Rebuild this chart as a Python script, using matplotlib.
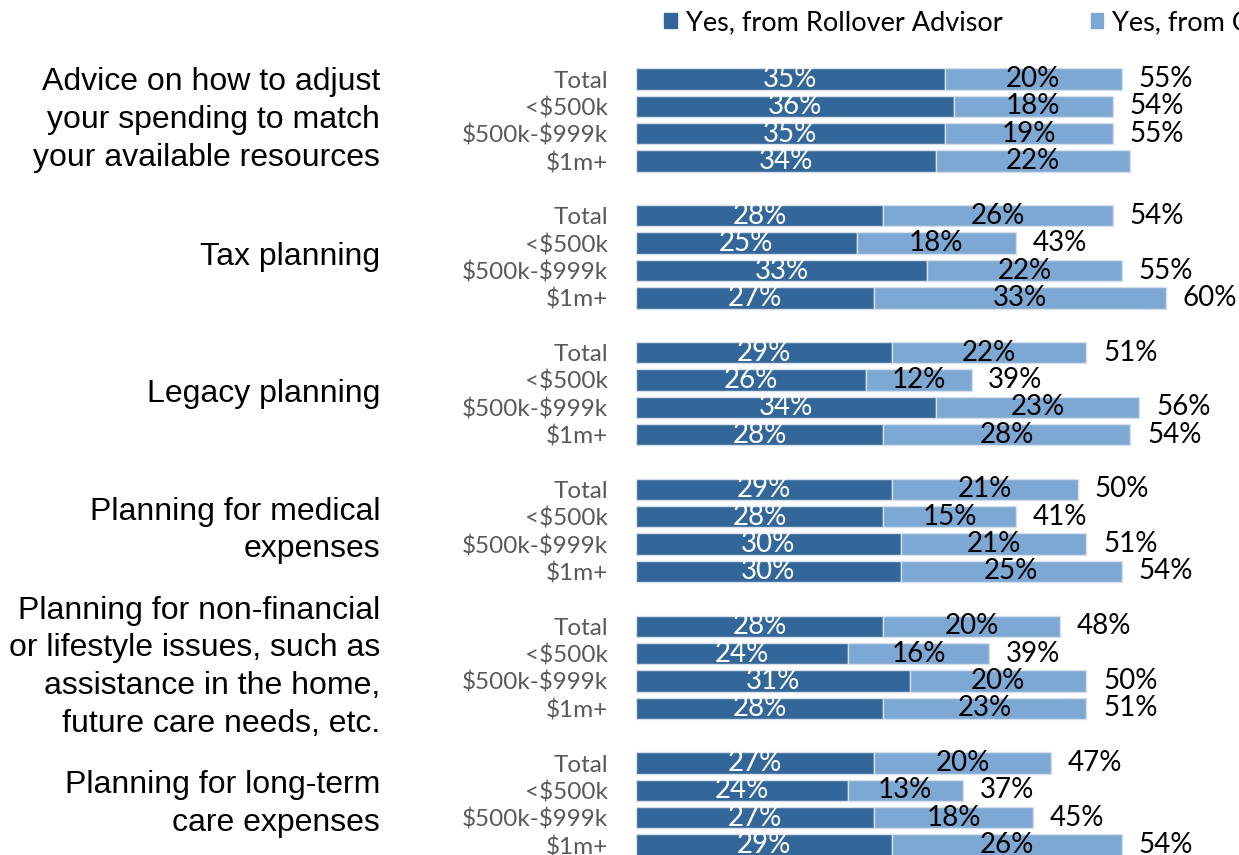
import matplotlib
matplotlib.use("Agg")
import matplotlib.pyplot as plt
from matplotlib.transforms import blended_transform_factory

# ---- data ----
categories = [
    "Advice on how to adjust\nyour spending to match\nyour available resources",
    "Tax planning",
    "Legacy planning",
    "Planning for medical\nexpenses",
    "Planning for non-financial\nor lifestyle issues, such as\nassistance in the home,\nfuture care needs, etc.",
    "Planning for long-term\ncare expenses",
]
segments = ["Total", "<\\$500k", "\\$500k-\\$999k", "\\$1m+"]

rollover = [
    [35, 36, 35, 34],
    [28, 25, 33, 27],
    [29, 26, 34, 28],
    [29, 28, 30, 30],
    [28, 24, 31, 28],
    [27, 24, 27, 29],
]
other = [
    [20, 18, 19, 22],
    [26, 18, 22, 33],
    [22, 12, 23, 28],
    [21, 15, 21, 25],
    [20, 16, 20, 23],
    [20, 13, 18, 26],
]
totals = [
    [55, 54, 55, None],
    [54, 43, 55, 60],
    [51, 39, 56, 54],
    [50, 41, 51, 54],
    [48, 39, 50, 51],
    [47, 37, 45, 54],
]
series_names = ["Yes, from Rollover Advisor", "Yes, from Other Advisor"]

dark = "#336699"
light = "#7EA8D4"
edge = "#D6E0EA"
lab_font = "Lato"

W, H = 1239, 855
fig = plt.figure(figsize=(W / 100, H / 100), dpi=100)

# axes placed in pixel terms: row i centre = 79 + 27.36*i, x = 636 + 8.83*v
row_h = 27.36
n_rows = len(categories) * 5 - 1
top_px = 79 - 0.5 * row_h
bot_px = 79 + (n_rows - 0.5) * row_h
x0_px, px_per = 636, 8.83
xmax = 68
ax = fig.add_axes([x0_px / W, 1 - bot_px / H,
                   xmax * px_per / W, (bot_px - top_px) / H])

ypos, ylabels = [], []
for g in range(len(categories)):
    for s in range(len(segments)):
        y = g * 5 + s
        r, o, t = rollover[g][s], other[g][s], totals[g][s]
        ax.barh(y, r, height=0.78, color=dark, edgecolor=edge, linewidth=1)
        ax.barh(y, o, left=r, height=0.78, color=light, edgecolor=edge, linewidth=1)
        ax.text(r / 2, y, f"{r}%", ha="center", va="center", color="white",
                fontsize=20, family=lab_font)
        ax.text(r + o / 2, y, f"{o}%", ha="center", va="center", color="black",
                fontsize=20, family=lab_font)
        if t is not None:
            ax.annotate(f"{t}%", (r + o, y), xytext=(12, 0), textcoords="offset points",
                        ha="left", va="center", color="black", fontsize=20,
                        family=lab_font)
        ypos.append(y)
        ylabels.append(segments[s])

ax.set_xlim(0, xmax)
ax.set_ylim(n_rows - 0.5, -0.5)
ax.set_yticks(ypos)
ax.set_yticklabels(ylabels, fontsize=17.5, color="#595959", family=lab_font)
ax.tick_params(axis="y", length=0, pad=20)
ax.set_xticks([])
for sp in ax.spines.values():
    sp.set_visible(False)

trans = blended_transform_factory(fig.transFigure, ax.transData)
for g, cat in enumerate(categories):
    ax.text(380 / W, g * 5 + 1.5, cat, transform=trans, ha="right", va="center",
            fontsize=23, family="Liberation Sans", linespacing=1.33)

# legend, running off the right edge like the source
handles = [plt.Rectangle((0, 0), 1, 1, color=c) for c in (dark, light)]
fig.legend(handles, series_names, loc="upper left",
           bbox_to_anchor=(640 / W, 1 + 14 / H), ncol=2, frameon=False,
           handlelength=0.45, handleheight=0.45, handletextpad=0.35,
           columnspacing=3.25, prop={"family": lab_font, "size": 19.5})

fig.savefig("out.png", dpi=100)
